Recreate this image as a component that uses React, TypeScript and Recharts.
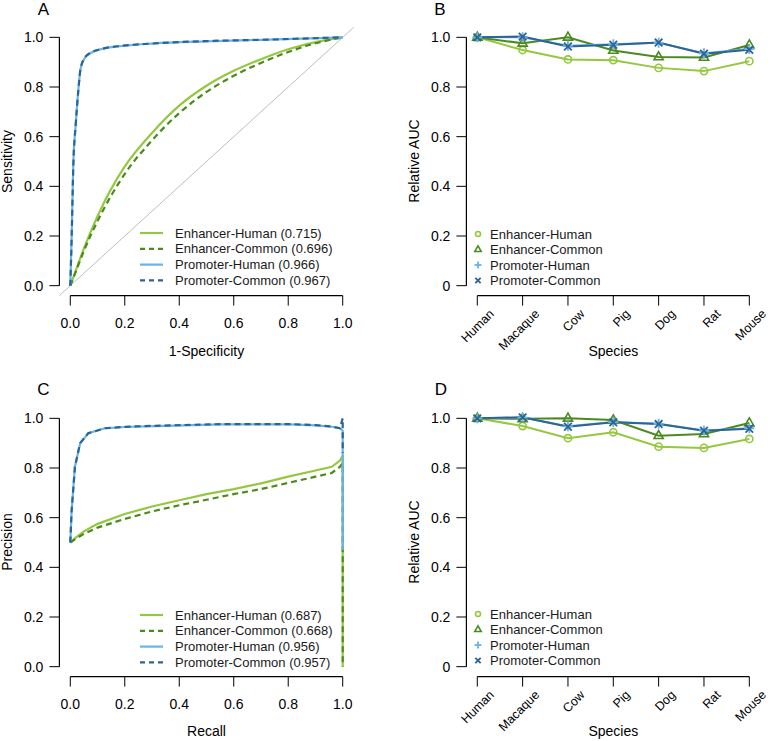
import React from 'react';
import { LineChart, Line, XAxis, YAxis, ReferenceLine, Legend } from 'recharts';

const EH = '#94C83E';
const EC = '#4B8A1E';
const PH = '#68B3E7';
const PC = '#2E6396';

// A: ROC curves
const rocEnhX = [0, 0.025, 0.05, 0.1, 0.2, 0.3, 0.4, 0.5, 0.6, 0.7, 0.8, 0.9, 1];
const rocEnhHumanY = [0, 0.075, 0.15, 0.28, 0.48, 0.615, 0.725, 0.805, 0.865, 0.912, 0.952, 0.981, 1];
const rocEnhCommonY = [0, 0.07, 0.14, 0.26, 0.45, 0.585, 0.695, 0.78, 0.845, 0.897, 0.941, 0.976, 1];
const rocPromX = [0, 0.005, 0.011, 0.02, 0.029, 0.038, 0.054, 0.072, 0.115, 0.19, 0.3, 0.5, 0.7, 0.85, 1];
const rocPromHumanY = [0, 0.2, 0.49, 0.65, 0.78, 0.875, 0.918, 0.935, 0.953, 0.965, 0.975, 0.984, 0.99, 0.995, 1];
const rocPromCommonY = [0, 0.19, 0.48, 0.65, 0.78, 0.876, 0.919, 0.936, 0.953, 0.966, 0.975, 0.985, 0.99, 0.995, 1];

// C: precision-recall curves
const prEnhX = [0, 0.02, 0.05, 0.1, 0.2, 0.3, 0.4, 0.5, 0.6, 0.7, 0.8, 0.9, 0.96, 0.99, 1, 1];
const prEnhHumanY = [0.5, 0.52, 0.545, 0.575, 0.615, 0.645, 0.67, 0.695, 0.715, 0.738, 0.765, 0.79, 0.805, 0.83, 0.85, 0];
const prEnhCommonY = [0.5, 0.515, 0.535, 0.56, 0.595, 0.625, 0.65, 0.672, 0.695, 0.715, 0.74, 0.765, 0.78, 0.805, 0.82, 0];
const prPromX = [0, 0.005, 0.017, 0.036, 0.066, 0.127, 0.2, 0.311, 0.556, 0.8, 0.9, 0.96, 0.99, 1, 1];
const prPromHumanY = [0.5, 0.63, 0.805, 0.899, 0.94, 0.96, 0.965, 0.969, 0.976, 0.976, 0.972, 0.966, 0.96, 0.95, 0.47];
const prPromCommonY = [0.5, 0.63, 0.805, 0.9, 0.94, 0.96, 0.966, 0.97, 0.977, 0.977, 0.973, 0.967, 0.96, 1.0, 0.86];

// B and D: relative AUC per species
const species = ['Human', 'Macaque', 'Cow', 'Pig', 'Dog', 'Rat', 'Mouse'];
const bEnhHuman = [1.0, 0.949, 0.911, 0.908, 0.877, 0.864, 0.904];
const bEnhCommon = [1.0, 0.976, 1.0, 0.947, 0.921, 0.919, 0.969];
const bPromHuman = [1.0, 1.0, 0.966, 0.972, 0.978, 0.936, 0.953];
const bPromCommon = [1.0, 1.003, 0.963, 0.97, 0.979, 0.934, 0.95];
const dEnhHuman = [1.0, 0.969, 0.92, 0.944, 0.886, 0.881, 0.917];
const dEnhCommon = [1.0, 0.998, 1.0, 0.993, 0.93, 0.937, 0.981];
const dPromHuman = [1.0, 1.003, 0.968, 0.985, 0.978, 0.951, 0.96];
const dPromCommon = [1.0, 1.004, 0.966, 0.984, 0.977, 0.95, 0.958];

const unitTicks = [0, 0.2, 0.4, 0.6, 0.8, 1];
const speciesTicks = [1, 2, 3, 4, 5, 6, 7];
const rocLegend = ['Enhancer-Human (0.715)', 'Enhancer-Common (0.696)', 'Promoter-Human (0.966)', 'Promoter-Common (0.967)'];
const prLegend = ['Enhancer-Human (0.687)', 'Enhancer-Common (0.668)', 'Promoter-Human (0.956)', 'Promoter-Common (0.957)'];
const aucLegend = ['Enhancer-Human', 'Enhancer-Common', 'Promoter-Human', 'Promoter-Common'];

const zip = (xs: number[], ys: number[]) => xs.map((x, i) => ({ x, y: ys[i] }));
const speciesRows = (eh: number[], ec: number[], ph: number[], pc: number[]) =>
  species.map((s, i) => ({ idx: i + 1, name: s, eh: eh[i], ec: ec[i], ph: ph[i], pc: pc[i] }));

const FONT = '"Liberation Sans", Arial, Helvetica, sans-serif';
const tickStyle = { fill: '#000', fontSize: 14 };
const dom: [number, number] = [-0.04, 1.04];

const lineStyles = [
  { color: EH, dash: undefined },
  { color: EC, dash: '6 4' },
  { color: PH, dash: undefined },
  { color: PC, dash: '6 4' },
];
const markerShapes = ['circle', 'triangle', 'plus', 'cross'];

function Marker({ shape, cx, cy, color, s = 1 }: any) {
  if (cx == null || cy == null) return null;
  if (shape === 'circle') return <circle cx={cx} cy={cy} r={3.6 * s} fill="none" stroke={color} strokeWidth={1.6} />;
  if (shape === 'triangle') {
    const pts = `${cx},${cy - 5.2 * s} ${cx - 4.6 * s},${cy + 2.8 * s} ${cx + 4.6 * s},${cy + 2.8 * s}`;
    return <polygon points={pts} fill="none" stroke={color} strokeWidth={1.6} />;
  }
  if (shape === 'plus') {
    const r = 5 * s;
    return (
      <g stroke={color} strokeWidth={1.8}>
        <line x1={cx - r} x2={cx + r} y1={cy} y2={cy} />
        <line x1={cx} x2={cx} y1={cy - r} y2={cy + r} />
      </g>
    );
  }
  const r = 3.8 * s;
  return (
    <g stroke={color} strokeWidth={1.8}>
      <line x1={cx - r} x2={cx + r} y1={cy - r} y2={cy + r} />
      <line x1={cx - r} x2={cx + r} y1={cy + r} y2={cy - r} />
    </g>
  );
}

const dotFor = (shape: string, color: string) => (p: any) => (
  <Marker key={`${shape}-${p.index}`} shape={shape} cx={p.cx} cy={p.cy} color={color} />
);

function LineKey({ labels }: { labels: string[] }) {
  return (
    <svg width={210} height={64} style={{ display: 'block' }}>
      {labels.map((lab, i) => {
        const cy = 8 + i * 15.8;
        return (
          <g key={lab}>
            <line x1={2} x2={25} y1={cy} y2={cy} stroke={lineStyles[i].color} strokeWidth={2.2} strokeDasharray={lineStyles[i].dash ? '5 4' : undefined} />
            <text x={37} y={cy + 4.6} fontSize={13} fill="#1a1a1a" fontFamily={FONT}>{lab}</text>
          </g>
        );
      })}
    </svg>
  );
}

function SymbolKey({ labels }: { labels: string[] }) {
  return (
    <svg width={170} height={64} style={{ display: 'block' }}>
      {labels.map((lab, i) => {
        const cy = 8 + i * 15.5;
        return (
          <g key={lab}>
            <Marker shape={markerShapes[i]} cx={6} cy={cy} color={lineStyles[i].color} s={0.7} />
            <text x={18} y={cy + 4.6} fontSize={13} fill="#1a1a1a" fontFamily={FONT}>{lab}</text>
          </g>
        );
      })}
    </svg>
  );
}

function SpeciesTick({ x, y, payload }: any) {
  const px = x + 17.5;
  const py = y + 7;
  return (
    <text x={px} y={py} transform={`rotate(-45, ${px}, ${py})`} textAnchor="end" fontSize={12.5} fill="#000" fontFamily={FONT}>
      {species[payload.value - 1]}
    </text>
  );
}

function CurvePanel({ curves, legend, top, height }: any) {
  return (
    <LineChart width={384} height={height} margin={{ top, right: 30.4, bottom: height - top - 268.2 - 60, left: 9.4 }}>
      <XAxis type="number" dataKey="x" domain={dom} allowDataOverflow ticks={unitTicks} interval={0}
        tickFormatter={(v: number) => v.toFixed(1)} axisLine={false} tickSize={10} tickMargin={12}
        tickLine={{ stroke: '#000' }} tick={tickStyle} height={60} />
      <YAxis type="number" dataKey="y" domain={dom} allowDataOverflow ticks={unitTicks} interval={0}
        tickFormatter={(v: number) => v.toFixed(1)} axisLine={false} tickSize={10} tickMargin={6}
        tickLine={{ stroke: '#000' }} tick={tickStyle} width={50} />
      <ReferenceLine segment={[{ x: 0, y: -0.04 }, { x: 1, y: -0.04 }]} stroke="#000" strokeWidth={1.2} />
      <ReferenceLine segment={[{ x: -0.04, y: 0 }, { x: -0.04, y: 1 }]} stroke="#000" strokeWidth={1.2} />
      {curves.diag && <ReferenceLine segment={[{ x: -0.04, y: -0.04 }, { x: 1.04, y: 1.04 }]} stroke="#BEBEBE" strokeWidth={1} />}
      {curves.series.map((d: any[], i: number) => (
        <Line key={i} data={d} dataKey="y" type={curves.curve} stroke={lineStyles[i].color} strokeWidth={2.2}
          strokeDasharray={lineStyles[i].dash} dot={false} activeDot={false} isAnimationActive={false} />
      ))}
      <Legend layout="vertical" align="center" verticalAlign="middle" content={() => <LineKey labels={legend} />}
        wrapperStyle={{ left: 138, top: curves.legendTop, width: 'auto', height: 'auto' }} />
    </LineChart>
  );
}

function AucPanel({ rows, top, height }: any) {
  const keys = ['eh', 'ec', 'ph', 'pc'];
  return (
    <LineChart width={384} height={height} data={rows} margin={{ top, right: 7.8, bottom: height - top - 268.2 - 60, left: 32.4 }}>
      <XAxis type="number" dataKey="idx" domain={[0.76, 7.24]} allowDataOverflow ticks={speciesTicks} interval={0}
        axisLine={false} tickSize={10} tickMargin={2} tickLine={{ stroke: '#000' }} tick={<SpeciesTick />} height={60} />
      <YAxis type="number" domain={dom} allowDataOverflow ticks={unitTicks} interval={0}
        tickFormatter={(v: number) => (v === 0 ? '0' : v.toFixed(1))} axisLine={false} tickSize={10} tickMargin={6}
        tickLine={{ stroke: '#000' }} tick={tickStyle} width={50} />
      <ReferenceLine segment={[{ x: 1, y: -0.04 }, { x: 7, y: -0.04 }]} stroke="#000" strokeWidth={1.2} />
      <ReferenceLine segment={[{ x: 0.76, y: 0 }, { x: 0.76, y: 1 }]} stroke="#000" strokeWidth={1.2} />
      {keys.map((k, i) => (
        <Line key={k} dataKey={k} type="linear" stroke={lineStyles[i].color} strokeWidth={2}
          dot={dotFor(markerShapes[i], lineStyles[i].color)} activeDot={false} isAnimationActive={false} />
      ))}
      <Legend layout="vertical" align="center" verticalAlign="middle" content={() => <SymbolKey labels={aucLegend} />}
        wrapperStyle={{ left: 88, top: top === 27.4 ? 226.3 : 236.3, width: 'auto', height: 'auto' }} />
    </LineChart>
  );
}

export default function App() {
  const rocCurves = {
    diag: true,
    curve: 'monotone',
    legendTop: 225.3,
    series: [zip(rocEnhX, rocEnhHumanY), zip(rocEnhX, rocEnhCommonY), zip(rocPromX, rocPromHumanY), zip(rocPromX, rocPromCommonY)],
  };
  const prCurves = {
    diag: false,
    curve: 'linear',
    legendTop: 237,
    series: [zip(prEnhX, prEnhHumanY), zip(prEnhX, prEnhCommonY), zip(prPromX, prPromHumanY), zip(prPromX, prPromCommonY)],
  };
  const title = { fontSize: 14, fill: '#000', fontFamily: FONT } as const;
  const letter = { fontSize: 17, fill: '#000', fontFamily: FONT, textAnchor: 'middle' } as const;

  return (
    <div style={{ position: 'absolute', left: 0, top: 0, width: 768, height: 741, background: '#fff', fontFamily: FONT }}>
      <div style={{ position: 'absolute', left: 0, top: 0 }}>
        <CurvePanel curves={rocCurves} legend={rocLegend} top={27.4} height={370} />
      </div>
      <div style={{ position: 'absolute', left: 384, top: 0 }}>
        <AucPanel rows={speciesRows(bEnhHuman, bEnhCommon, bPromHuman, bPromCommon)} top={27.4} height={370} />
      </div>
      <div style={{ position: 'absolute', left: 0, top: 370 }}>
        <CurvePanel curves={prCurves} legend={prLegend} top={38.4} height={371} />
      </div>
      <div style={{ position: 'absolute', left: 384, top: 370 }}>
        <AucPanel rows={speciesRows(dEnhHuman, dEnhCommon, dPromHuman, dPromCommon)} top={38.4} height={371} />
      </div>
      <svg width={768} height={741} style={{ position: 'absolute', left: 0, top: 0, pointerEvents: 'none' }}>
        <text x={43.5} y={15} {...letter}>A</text>
        <text x={440} y={15} {...letter}>B</text>
        <text x={43.5} y={395} {...letter}>C</text>
        <text x={441} y={395} {...letter}>D</text>
        <text x={206.5} y={356} textAnchor="middle" {...title}>1-Specificity</text>
        <text x={12} y={161.5} textAnchor="middle" transform="rotate(-90, 12, 161.5)" {...title}>Sensitivity</text>
        <text x={613.3} y={356} textAnchor="middle" {...title}>Species</text>
        <text x={419} y={161} textAnchor="middle" transform="rotate(-90, 419, 161)" {...title}>Relative AUC</text>
        <text x={206.5} y={736} textAnchor="middle" {...title}>Recall</text>
        <text x={12} y={542} textAnchor="middle" transform="rotate(-90, 12, 542)" {...title}>Precision</text>
        <text x={613.3} y={736} textAnchor="middle" {...title}>Species</text>
        <text x={419} y={542} textAnchor="middle" transform="rotate(-90, 419, 542)" {...title}>Relative AUC</text>
      </svg>
    </div>
  );
}
